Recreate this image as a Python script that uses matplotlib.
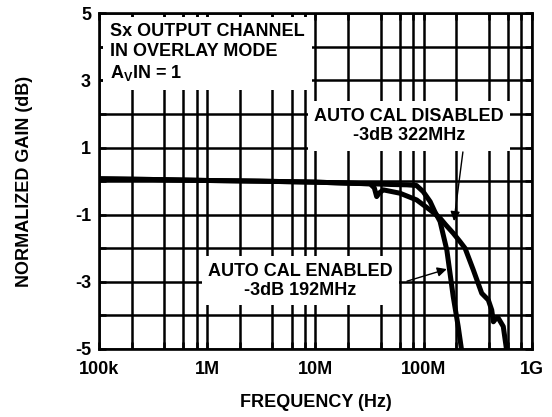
import numpy as np
import matplotlib
matplotlib.use('Agg')
import matplotlib.pyplot as plt
from matplotlib.ticker import FixedLocator, NullFormatter

plt.rcParams['font.family'] = ['Liberation Sans', 'DejaVu Sans']
plt.rcParams['font.weight'] = 'bold'
plt.rcParams['mathtext.fontset'] = 'custom'
plt.rcParams['mathtext.rm'] = 'Liberation Sans:bold'
plt.rcParams['mathtext.bf'] = 'Liberation Sans:bold'

# 01 Data
EnabledFreq = [1e5, 3e5, 1e6, 3e6, 1e7, 2e7, 3.4e7, 5e7, 7e7, 8.6e7, 9.9e7, 1.15e8, 1.27e8,
               1.42e8, 1.64e8, 1.88e8, 2.09e8, 2.25e8]
EnabledGain = [0.07, 0.05, 0.02, 0.0, -0.03, -0.06, -0.08, -0.1, -0.11, -0.13, -0.31, -0.61, -0.91,
               -1.2, -2.05, -3.44, -4.33, -5.05]

DisabledFreq = [1e5, 3e5, 1e6, 3e6, 1e7, 2e7, 3.2e7, 3.5e7, 3.68e7, 3.9e7, 4.24e7, 6.05e7, 8.63e7,
                1.15e8, 1.42e8, 1.6e8, 1.88e8, 2.17e8, 2.42e8, 2.88e8, 3.45e8, 3.97e8, 4.27e8,
                4.42e8, 4.65e8, 4.91e8, 5.46e8, 5.87e8]
DisabledGain = [0.07, 0.05, 0.02, 0.0, -0.03, -0.06, -0.08, -0.2, -0.46, -0.35, -0.26, -0.36, -0.56,
                -0.86, -1.1, -1.3, -1.55, -1.8, -2.0, -2.64, -3.34, -3.54, -3.84,
                -4.19, -4.1, -4.08, -4.33, -5.05]

MajorFreq = [1e5, 1e6, 1e7, 1e8, 1e9]
MajorLabels = ['100k', '1M', '10M', '100M', '1G']
MinorFreq = [m * d for d in [1e5, 1e6, 1e7, 1e8] for m in [2, 4, 6, 8]]
GainTicks = [-5, -3, -1, 1, 3, 5]
GainMinor = [-4, -2, 0, 2, 4]


# 02 Plot
Figure = plt.figure(figsize=(5.52, 4.17), dpi=100)
Axes = Figure.add_axes([0.1799, 0.1631, 0.7833, 0.805])

Axes.set_xscale('log')
Axes.set_xlim([1e5, 1e9])
Axes.set_ylim([-5, 5])
Axes.xaxis.set_major_locator(FixedLocator(MajorFreq))
Axes.xaxis.set_minor_locator(FixedLocator(MinorFreq))
Axes.xaxis.set_minor_formatter(NullFormatter())
Axes.set_xticklabels(MajorLabels, fontweight='bold')
Axes.yaxis.set_major_locator(FixedLocator(GainTicks))
Axes.yaxis.set_minor_locator(FixedLocator(GainMinor))
Axes.set_yticklabels([str(g) for g in GainTicks], fontweight='bold')
Axes.grid(True, which='both', color='black', linewidth=1.8)
Axes.set_axisbelow(True)
Axes.tick_params(which='both', direction='in', length=5, width=1.8, labelsize=13,
                 top=True, right=True)
Axes.tick_params(axis='x', pad=9)
Axes.tick_params(axis='y', pad=6)
for Spine in Axes.spines.values():
    Spine.set_linewidth(1.9)

Axes.plot(EnabledFreq, EnabledGain, color='black', linewidth=3.6, solid_capstyle='butt', zorder=4)
Axes.plot(DisabledFreq, DisabledGain, color='black', linewidth=3.6, solid_capstyle='butt', zorder=4)

Box = dict(boxstyle='square,pad=0.35', facecolor='white', edgecolor='none')
Axes.text(1.25e5, 4.7, 'Sx OUTPUT CHANNEL\nIN OVERLAY MODE\nA$_{\\mathbf{V}}$IN = 1', fontsize=13,
          fontweight='bold', ha='left', va='top', linespacing=1.2,
          bbox=dict(boxstyle='square,pad=0.4', facecolor='white', edgecolor='none'), zorder=3)
Axes.text(7.33e7, 1.64, 'AUTO CAL DISABLED\n-3dB 322MHz', fontsize=13, fontweight='bold',
          ha='center', va='center', linespacing=1.2, bbox=Box, zorder=3)
Axes.text(7.23e6, -2.97, 'AUTO CAL ENABLED\n-3dB 192MHz', fontsize=13, fontweight='bold',
          ha='center', va='center', linespacing=1.2, bbox=Box, zorder=3)

Arrow = dict(arrowstyle='-|>', color='black', linewidth=1.0, mutation_scale=14, shrinkA=0, shrinkB=0)
Axes.annotate('', xy=(1.64e8, -2.62), xytext=(7.02e7, -2.98), arrowprops=Arrow, zorder=5)
Axes.annotate('', xy=(1.91e8, -1.19), xytext=(2.31e8, 0.87), arrowprops=Arrow, zorder=5)

Axes.set_xlabel('FREQUENCY (Hz)', fontsize=13, fontweight='bold', labelpad=11)
Axes.set_ylabel('NORMALIZED GAIN (dB)', fontsize=13, fontweight='bold', labelpad=30)

plt.savefig('out.png', dpi=100)
plt.close(Figure)
